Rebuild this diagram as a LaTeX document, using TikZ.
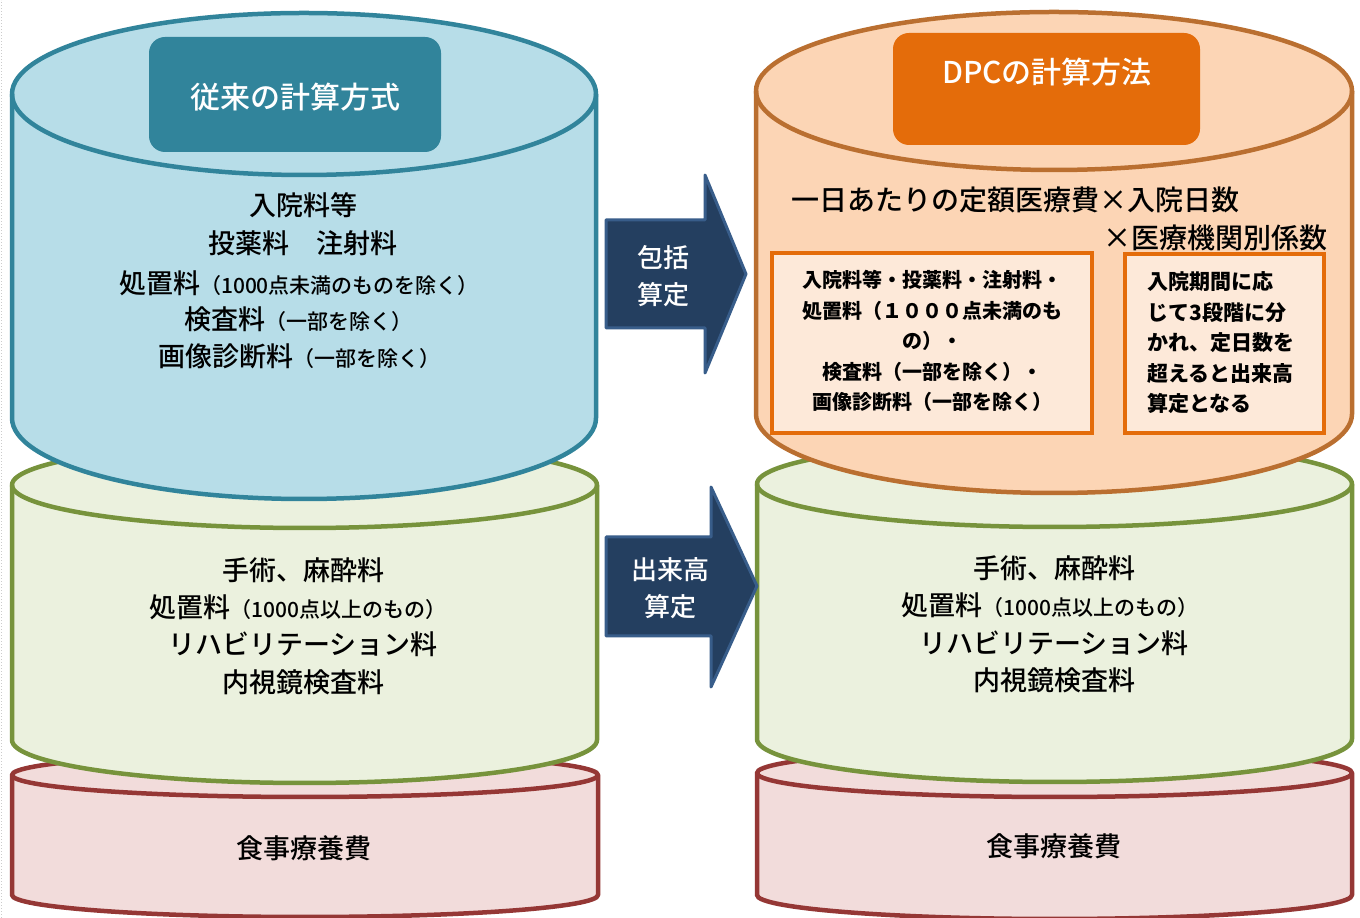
\documentclass[tikz,border=0pt]{standalone}
\usepackage{fontspec}
\setmainfont{Noto Sans CJK JP}[UprightFont={* Medium}]
\newfontfamily\jpplain{Noto Sans CJK JP}
\definecolor{blueline}{HTML}{31849B}
\definecolor{bluefill}{HTML}{B7DDE8}
\definecolor{greenline}{HTML}{77933C}
\definecolor{greenfill}{HTML}{EBF1DE}
\definecolor{redline}{HTML}{953735}
\definecolor{redfill}{HTML}{F2DCDB}
\definecolor{orangeline}{HTML}{BA6F30}
\definecolor{orangefill}{HTML}{FCD5B5}
\definecolor{orangedark}{HTML}{E46C0A}
\definecolor{boxfill}{HTML}{FDE9D9}
\definecolor{navy}{HTML}{243F60}
\definecolor{navyline}{HTML}{385D8A}
\newcommand\mycyl[7]{%
  \pgfmathsetmacro\rxx{(#2-#1)/2}%
  \path[draw=#7,fill=#6,line width=4.5pt,line join=round]
    (#1,#3) -- (#1,#4)
    arc[start angle=180,end angle=360,x radius=\rxx pt,y radius=#5 pt]
    -- (#2,#3)
    arc[start angle=0,end angle=180,x radius=\rxx pt,y radius=#5 pt] -- cycle;
  \draw[#7,line width=4.5pt]
    (#1,#3) arc[start angle=180,end angle=360,x radius=\rxx pt,y radius=#5 pt];
}
\tikzset{
  big/.style={font=\fontsize{27}{32}\selectfont,inner sep=0pt,text=black},
  titletxt/.style={font=\fontsize{30}{34}\selectfont,inner sep=0pt,text=white},
  titlebox/.style={rounded corners=16pt,draw=none},
  innerbox/.style={draw=orangedark,fill=boxfill,line width=4pt},
  arrowshape/.style={fill=navy,draw=navyline,line width=3pt,line join=round},
  arrowtxt/.style={font=\fontsize{26}{37}\selectfont,text=white,align=center,inner sep=0pt},
  boxtxt/.style={font=\jpplain\bfseries\fontsize{20}{30.5}\selectfont,inner sep=0pt,text=black},
}
\newcommand\sm[1]{{\fontsize{21}{25}\selectfont #1}}
\begin{document}
\begin{tikzpicture}[x=1pt,y=1pt]
\useasboundingbox[fill=white] (0,0) rectangle (1360,918);
\draw[gray!40,dotted,line width=1pt] (1.5,0) -- (1.5,918);
% left stack
\mycyl{12}{598}{143}{23}{22}{redfill}{redline}
\mycyl{12}{597}{433}{178}{43}{greenfill}{greenline}
\mycyl{12}{596}{824}{500}{81}{bluefill}{blueline}
% right stack
\mycyl{757}{1352}{145}{23}{24}{redfill}{redline}
\mycyl{757}{1352}{434}{179}{43}{greenfill}{greenline}
\mycyl{756}{1352}{827}{504}{79}{orangefill}{orangeline}
% title boxes
\fill[blueline,titlebox] (149,881) rectangle (441,766);
\node[titletxt] (t1) at (295,821) {従来の計算方式};
\fill[orangedark,titlebox] (893,885) rectangle (1200,773);
\node[titletxt] (t2) at (1047,846) {DPCの計算方法};
% blue texts
\node[big] (b1) at (303,713) {入院料等};
\node[big] (b2) at (303,675) {投薬料　注射料};
\node[big] (b3) at (299,635) {処置料\sm{（1000点未満のものを除く）}};
\node[big] (b4) at (298,599) {検査料\sm{（一部を除く）}};
\node[big] (b5) at (299,562) {画像診断料\sm{（一部を除く）}};
% left green texts
\node[big] (g1) at (303,348) {手術、麻酔料};
\node[big] (g2) at (298,311) {処置料\sm{（1000点以上のもの）}};
\node[big] (g3) at (303,274) {リハビリテーション料};
\node[big] (g4) at (303,236) {内視鏡検査料};
\node[big] (r1) at (304,70) {食事療養費};
% right green texts
\node[big] (h1) at (1054,350) {手術、麻酔料};
\node[big] (h2) at (1050,313) {処置料\sm{（1000点以上のもの）}};
\node[big] (h3) at (1054,275) {リハビリテーション料};
\node[big] (h4) at (1054,238) {内視鏡検査料};
\node[big] (r2) at (1054,72) {食事療養費};
% orange texts
\node[big,font=\fontsize{28}{32}\selectfont] (o1) at (1015,718) {一日あたりの定額医療費×入院日数};
\node[big,font=\fontsize{28}{32}\selectfont,anchor=east] (o2) at (1328,680) {×医療機関別係数};
\draw[innerbox] (772,665) rectangle (1092,485);
\draw[innerbox] (1125,664) rectangle (1324,485);
\node[boxtxt,align=center] (ib1) at (932,577) {入院料等・投薬料・注射料・\\処置料（１０００点未満のも\\の）・\\検査料（一部を除く）・\\画像診断料（一部を除く）};
\node[boxtxt,align=left,anchor=west,font=\jpplain\bfseries\fontsize{21}{30.5}\selectfont] (ib2) at (1147,575) {入院期間に応\\じて3段階に分\\かれ、定日数を\\超えると出来高\\算定となる};
% arrows
\draw[arrowshape] (606,698) -- (705,698) -- (705,743) -- (746,644) -- (705,545) -- (705,590) -- (606,590) -- cycle;
\node[arrowtxt] (a1) at (663,642) {包括\\算定};
\draw[arrowshape] (606,381) -- (711,381) -- (711,431) -- (757,332) -- (711,231) -- (711,282) -- (606,282) -- cycle;
\node[arrowtxt] (a2) at (670,330) {出来高\\算定};
\end{tikzpicture}
\end{document}
